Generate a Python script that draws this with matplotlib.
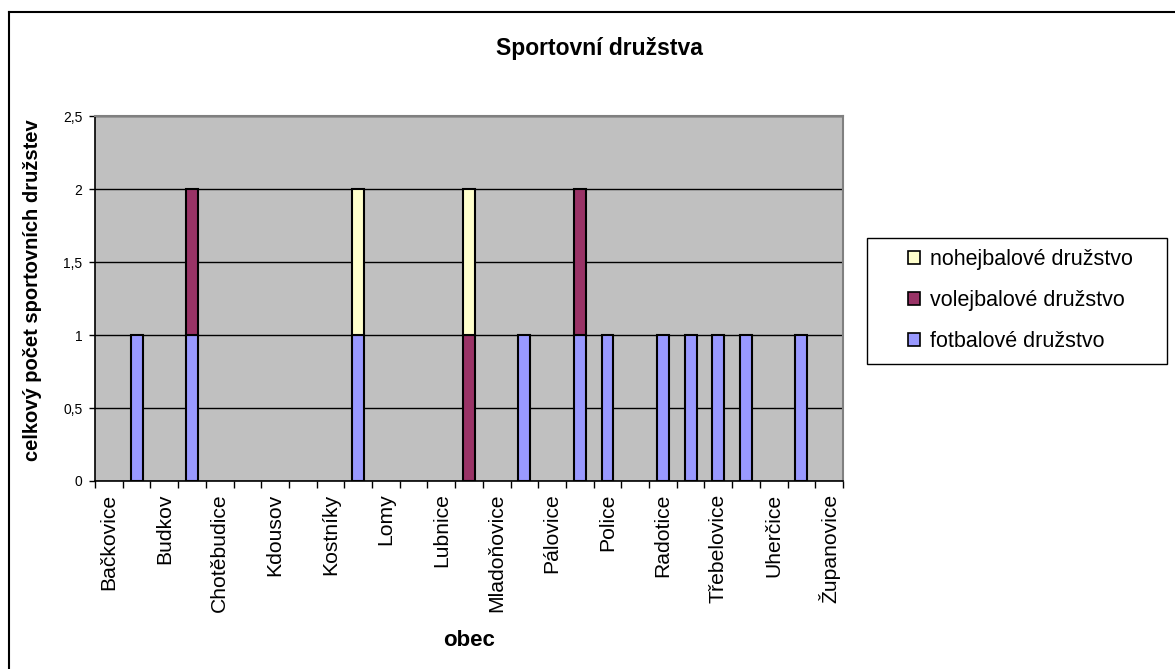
import matplotlib
matplotlib.use('Agg')
import matplotlib.pyplot as plt
from matplotlib.lines import Line2D
from matplotlib.patches import Rectangle
from matplotlib.ticker import FuncFormatter, MultipleLocator

# Obce (only every other name is printed on the axis)
obce = ['Bačkovice', '', 'Budkov', '', 'Chotěbudice', '', 'Kdousov', '',
        'Kostníky', '', 'Lomy', '', 'Lubnice', '', 'Mladoňovice', '',
        'Pálovice', '', 'Police', '', 'Radotice', '', 'Třebelovice', '',
        'Uherčice', '', 'Županovice']

# Pocet druzstev v obci
fotbal = [0, 1, 0, 1, 0, 0, 0, 0, 0, 1, 0, 0, 0, 0, 0, 1, 0, 1, 1, 0, 1, 1, 1, 1, 0, 1, 0]
volejbal = [0, 0, 0, 1, 0, 0, 0, 0, 0, 0, 0, 0, 0, 1, 0, 0, 0, 1, 0, 0, 0, 0, 0, 0, 0, 0, 0]
nohejbal = [0, 0, 0, 0, 0, 0, 0, 0, 0, 1, 0, 0, 0, 1, 0, 0, 0, 0, 0, 0, 0, 0, 0, 0, 0, 0, 0]

# Fonts
plt.rcParams['font.family'] = ['Liberation Sans', 'DejaVu Sans']

W, H = 1175, 669
fig = plt.figure(figsize=(W / 100, H / 100), dpi=100)

# Plot area
ax = fig.add_axes([95 / W, 1 - 481 / H, 748 / W, 365 / H])
ax.set_facecolor('#C0C0C0')


def stacked(values, bottoms, color, label):
    # draw only non-empty bars, Excel shows nothing for zero
    xs = [i + 0.5 for i, v in enumerate(values) if v > 0]
    hs = [v for v in values if v > 0]
    bs = [b for v, b in zip(values, bottoms) if v > 0]
    ax.bar(xs, hs, width=0.43, bottom=bs, color=color, edgecolor='black',
           linewidth=1.5, label=label, zorder=3)


zero = [0] * len(obce)
bottom2 = [f + v for f, v in zip(fotbal, volejbal)]
stacked(fotbal, zero, '#9999FF', 'fotbalové družstvo')
stacked(volejbal, fotbal, '#993366', 'volejbalové družstvo')
stacked(nohejbal, bottom2, '#FFFFCC', 'nohejbalové družstvo')

# Axes
ax.set_xlim(0, len(obce))
ax.set_ylim(0, 2.5)
ax.yaxis.set_major_locator(MultipleLocator(0.5))
ax.yaxis.set_major_formatter(FuncFormatter(lambda v, p: ('%g' % v).replace('.', ',')))
ax.grid(axis='y', color='black', linewidth=1, zorder=1)
ax.set_axisbelow(True)

ax.set_xticks(range(len(obce) + 1))
ax.set_xticklabels([])
ax.set_xticks([i + 0.5 for i in range(len(obce))], minor=True)
ax.set_xticklabels(obce, minor=True, rotation=90, ha='center', va='top', fontsize=15.2)
ax.tick_params(axis='x', which='major', length=5, direction='out', width=1)
ax.tick_params(axis='x', which='minor', length=0, pad=9)
ax.tick_params(axis='y', length=4, width=1, labelsize=10, pad=5)

for s in ['left', 'bottom']:
    ax.spines[s].set_color('black')
    ax.spines[s].set_linewidth(1.2)
for s in ['top', 'right']:
    ax.spines[s].set_color('#808080')
    ax.spines[s].set_linewidth(1.5)

# Texts
fig.text(599 / W, 1 - 48 / H, 'Sportovní družstva', ha='center', va='center',
         fontsize=16.5, fontweight='bold')
fig.text(469 / W, 1 - 641 / H, 'obec', ha='center', va='center',
         fontsize=16, fontweight='bold')
fig.text(33 / W, 1 - 290 / H, 'celkový počet sportovních družstev', ha='center',
         va='center', rotation=90, fontsize=14.5, fontweight='bold')

# Legend (reverse order), frame drawn separately
handles, labels = ax.get_legend_handles_labels()
leg = fig.legend(handles[::-1], labels[::-1], loc='upper left',
                 bbox_to_anchor=(908 / W, 1 - 249 / H), bbox_transform=fig.transFigure,
                 borderaxespad=0, borderpad=0, frameon=False, fontsize=15.5,
                 handlelength=0.56, handleheight=0.56, handletextpad=0.45,
                 labelspacing=0.93)
for h in leg.legend_handles:
    h.set_linewidth(1.2)
fig.add_artist(Rectangle((867 / W, 1 - 364 / H), 300 / W, 126 / H,
                         transform=fig.transFigure, fill=False,
                         edgecolor='black', linewidth=1))

# Outer chart frame
fig.add_artist(Line2D([9 / W, 9 / W], [0, 1 - 12 / H], transform=fig.transFigure,
                      color='black', linewidth=1.5))
fig.add_artist(Line2D([9 / W, 1], [1 - 12 / H, 1 - 12 / H], transform=fig.transFigure,
                      color='black', linewidth=1.5))

fig.savefig('out.png', dpi=100)
